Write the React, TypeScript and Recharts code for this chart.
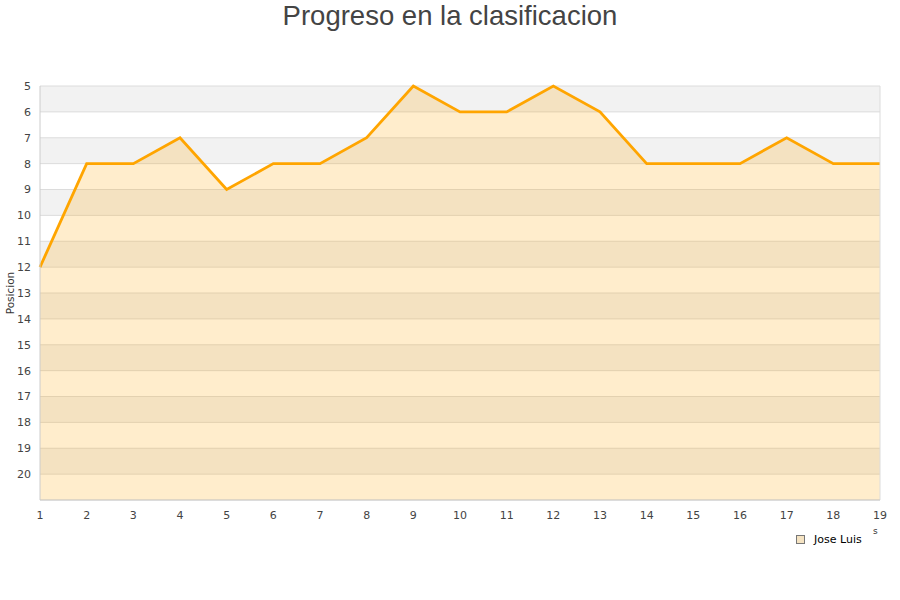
import React from "react"
import {
  Area,
  CartesianGrid,
  ComposedChart,
  ReferenceLine,
  XAxis,
  YAxis,
} from "recharts"

const jornadas = [1, 2, 3, 4, 5, 6, 7, 8, 9, 10, 11, 12, 13, 14, 15, 16, 17, 18, 19]
const posiciones = [12, 8, 8, 7, 9, 8, 8, 7, 5, 6, 6, 5, 6, 8, 8, 8, 7, 8, 8]
const yTicks = [5, 6, 7, 8, 9, 10, 11, 12, 13, 14, 15, 16, 17, 18, 19, 20]

const data = jornadas.map((j, i) => ({ jornada: j, pos: posiciones[i] }))

const tickStyle = { fontSize: 11, fill: "#444" }

export default function App() {
  return (
    <div style={{ position: "absolute", left: 0, top: 0, width: 900, height: 600, fontFamily: "DejaVu Sans", background: "#fff" }}>
      <ComposedChart
        width={900}
        height={600}
        data={data}
        margin={{ top: 86, right: 20, bottom: 70, left: 0 }}
      >
        <CartesianGrid
          vertical={false}
          stroke="#dcdcdc"
          horizontalFill={["#f2f2f2", "#ffffff"]}
          fillOpacity={1}
        />
        <XAxis
          dataKey="jornada"
          type="number"
          domain={[1, 19]}
          ticks={jornadas}
          tick={tickStyle}
          tickLine={false}
          axisLine={{ stroke: "#ccc" }}
          tickMargin={5}
          height={30}
        />
        <YAxis
          type="number"
          domain={[5, 21]}
          reversed
          ticks={yTicks}
          tick={tickStyle}
          tickLine={false}
          axisLine={{ stroke: "#ccc" }}
          width={40}
          tickMargin={3}
          interval={0}
        />
        <ReferenceLine x={19} stroke="#dcdcdc" />
        <Area
          type="linear"
          dataKey="pos"
          baseValue={21}
          stroke="#ffa500"
          strokeWidth={2.8}
          fill="#ffa500"
          fillOpacity={0.2}
          dot={false}
          activeDot={false}
          isAnimationActive={false}
        />
      </ComposedChart>
      <div
        style={{
          position: "absolute",
          top: 0,
          left: 0,
          width: 900,
          textAlign: "center",
          fontFamily: "Liberation Sans",
          fontSize: 27.5,
          color: "#444",
          lineHeight: "32px",
        }}
      >
        Progreso en la clasificacion
      </div>
      <div
        style={{
          position: "absolute",
          left: 10,
          top: 293,
          transform: "translate(-50%, -50%) rotate(-90deg)",
          fontSize: 10.5,
          color: "#333",
          whiteSpace: "nowrap",
        }}
      >
        Posicion
      </div>
      <div style={{ position: "absolute", left: 796, top: 533, display: "flex", alignItems: "center", fontSize: 11, color: "#000" }}>
        <span style={{ display: "inline-block", width: 7, height: 7, background: "#f5e3c2", border: "1px solid #777", marginRight: 9 }} />
        Jose Luis
      </div>
      <div style={{ position: "absolute", left: 873, top: 526, fontSize: 9, color: "#333" }}>s</div>
    </div>
  )
}
